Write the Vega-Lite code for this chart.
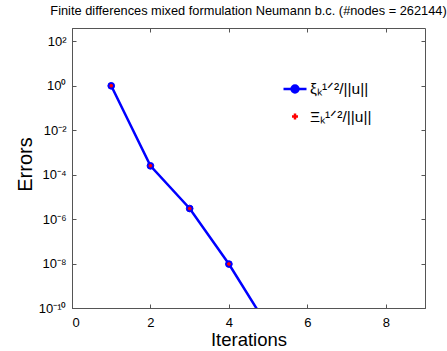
{
  "$schema": "https://vega.github.io/schema/vega-lite/v6.json",
  "width": 353,
  "height": 280,
  "autosize": "none",
  "padding": {"left": 72, "top": 28, "right": 22, "bottom": 43},
  "background": "white",
  "title": {
    "text": "Finite differences mixed formulation Neumann b.c. (#nodes = 262144)",
    "font": "Liberation Sans",
    "fontSize": 12.8,
    "fontWeight": "normal",
    "color": "black",
    "anchor": "middle",
    "offset": 10
  },
  "data": {
    "values": [
      {"it": 1, "s": "xi", "e": 1.0},
      {"it": 2, "s": "xi", "e": 2.5e-4},
      {"it": 3, "s": "xi", "e": 3.0e-6},
      {"it": 4, "s": "xi", "e": 9.5e-9},
      {"it": 5, "s": "xi", "e": 1.4e-11},
      {"it": 1, "s": "Xi", "e": 1.0},
      {"it": 2, "s": "Xi", "e": 2.5e-4},
      {"it": 3, "s": "Xi", "e": 3.0e-6},
      {"it": 4, "s": "Xi", "e": 9.5e-9},
      {"it": 5, "s": "Xi", "e": 1.4e-11}
    ]
  },
  "config": {
    "view": {"stroke": "#555555", "strokeWidth": 1},
    "axis": {
      "grid": false,
      "domainColor": "#555555",
      "tickColor": "#555555",
      "tickSize": -4,
      "labelFont": "Liberation Sans",
      "labelFontSize": 13,
      "labelColor": "black",
      "titleFont": "Liberation Sans",
      "titleFontSize": 18.5,
      "titleFontWeight": "normal",
      "titleColor": "black"
    },
    "legend": {
      "orient": "none",
      "legendX": 210,
      "legendY": 48,
      "padding": 0,
      "symbolSize": 529,
      "symbolOpacity": 1,
      "symbolStrokeWidth": 2.5,
      "labelOffset": 2,
      "rowPadding": 5.5,
      "labelFont": "Liberation Sans",
      "labelFontSize": 15.5,
      "labelColor": "black"
    }
  },
  "resolve": {"axis": {"x": "independent", "y": "independent"}},
  "layer": [
    {
      "transform": [{"filter": "datum.s == 'xi'"}],
      "mark": {"type": "line", "color": "#0000ff", "strokeWidth": 2.5, "clip": true},
      "encoding": {
        "x": {
          "field": "it", "type": "quantitative",
          "scale": {"domain": [0, 9], "nice": false},
          "axis": {"orient": "bottom", "values": [0, 2, 4, 6, 8], "title": "Iterations", "labelPadding": 12, "titlePadding": 1}
        },
        "y": {
          "field": "e", "type": "quantitative",
          "scale": {"type": "log", "domain": [1e-10, 400], "nice": false},
          "axis": {
            "orient": "left",
            "values": [100, 1, 0.01, 0.0001, 1e-6, 1e-8, 1e-10],
            "title": "Errors",
            "titleFontSize": 20,
            "titleY": 136,
            "titlePadding": 3,
            "labelPadding": 10,
            "labelExpr": "datum.value > 10 ? '10²' : datum.value > 0.1 ? '10⁰' : datum.value > 1e-3 ? '10⁻²' : datum.value > 1e-5 ? '10⁻⁴' : datum.value > 1e-7 ? '10⁻⁶' : datum.value > 1e-9 ? '10⁻⁸' : '10⁻¹⁰'"
          }
        }
      }
    },
    {
      "transform": [{"filter": "datum.s == 'xi'"}],
      "mark": {"type": "point", "shape": "circle", "filled": true, "size": 45, "color": "#0000ff", "stroke": "#0000ff", "strokeWidth": 1, "opacity": 1, "clip": true},
      "encoding": {
        "x": {
          "field": "it", "type": "quantitative",
          "axis": {"orient": "top", "values": [0, 2, 4, 6, 8], "labels": false, "title": null, "domain": false}
        },
        "y": {
          "field": "e", "type": "quantitative",
          "axis": {"orient": "right", "values": [100, 1, 0.01, 0.0001, 1e-6, 1e-8, 1e-10], "labels": false, "title": null, "domain": false}
        }
      }
    },
    {
      "transform": [{"filter": "datum.s == 'Xi'"}],
      "mark": {"type": "point", "filled": true, "size": 182, "strokeWidth": 2, "opacity": 1, "clip": true},
      "encoding": {
        "x": {"field": "it", "type": "quantitative", "axis": null},
        "y": {"field": "e", "type": "quantitative", "axis": null},
        "color": {
          "field": "s", "type": "nominal",
          "scale": {"domain": ["xi", "Xi"], "range": ["#0000ff", "#ff0000"]},
          "legend": {"title": null, "labelExpr": "datum.value == 'xi' ? 'ξₖ¹ᐟ²/||u||' : 'Ξₖ¹ᐟ²/||u||'"}
        },
        "stroke": {
          "field": "s", "type": "nominal",
          "scale": {"domain": ["xi", "Xi"], "range": ["#0000ff", "#ff0000"]},
          "legend": {"title": null, "labelExpr": "datum.value == 'xi' ? 'ξₖ¹ᐟ²/||u||' : 'Ξₖ¹ᐟ²/||u||'"}
        },
        "shape": {
          "field": "s", "type": "nominal",
          "scale": {"domain": ["xi", "Xi"], "range": ["M-1,0H-0.3M0.3,0H1M-0.3,0A0.3,0.3 0 1,1 0.3,0A0.3,0.3 0 1,1 -0.3,0Z", "M-0.26,0H0.26M0,-0.26V0.26"]},
          "legend": {"title": null, "labelExpr": "datum.value == 'xi' ? 'ξₖ¹ᐟ²/||u||' : 'Ξₖ¹ᐟ²/||u||'"}
        }
      }
    }
  ]
}
